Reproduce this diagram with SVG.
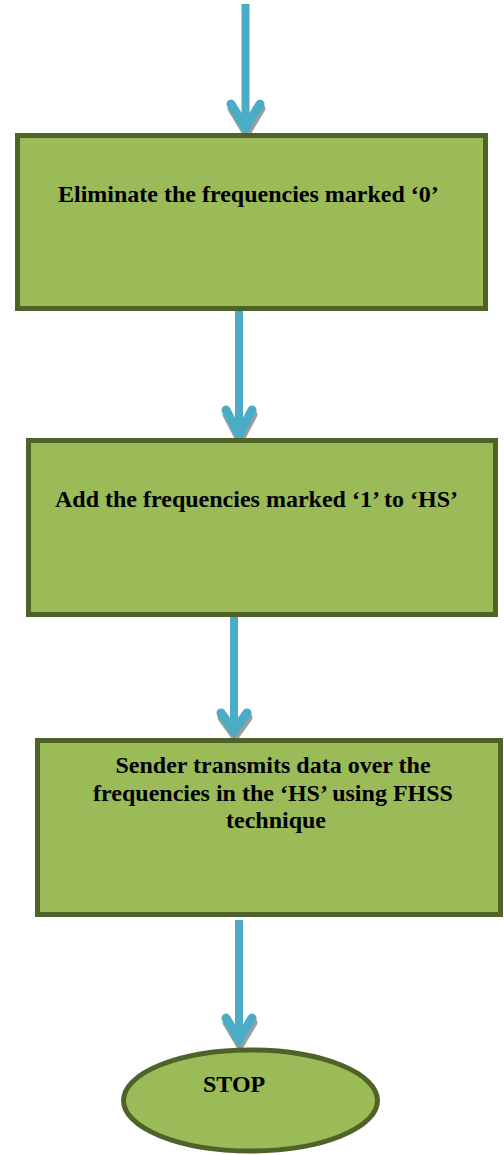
<svg xmlns="http://www.w3.org/2000/svg" width="504" height="1155" viewBox="0 0 504 1155">
  <style>
    .box { fill: #9BBB59; stroke: #4F6228; stroke-width: 5; }
    .halo { fill: none; stroke: #A6A6A6; stroke-width: 1; }
    .label { font-family: "Liberation Serif", "Times New Roman", serif; font-weight: bold; font-size: 24px; fill: #000; }
    .shaft { stroke: #4BACC6; stroke-width: 8; fill: none; }
    .head { stroke: #4BACC6; stroke-width: 9; fill: none; stroke-linecap: round; stroke-linejoin: miter; }
    .headshadow { stroke: #9E9E9E; stroke-width: 9; fill: none; stroke-linecap: round; stroke-linejoin: miter; }
  </style>
  <rect width="504" height="1155" fill="#FFFFFF"/>

  <g id="connectors">
    <g id="arrow1">
      <line class="shaft" x1="245.5" y1="4" x2="245.5" y2="124"/>
      <path class="headshadow" d="M231,106 L245.5,130 L260,106" transform="translate(1,2.5)"/>
      <path class="head" d="M231,104 L245.5,128 L260,104"/>
    </g>
    <g id="arrow2">
      <line class="shaft" x1="239" y1="311" x2="239" y2="432"/>
      <path class="headshadow" d="M226,412 L239,437 L252,412" transform="translate(1,2.5)"/>
      <path class="head" d="M226,410 L239,435 L252,410"/>
    </g>
    <g id="arrow3">
      <line class="shaft" x1="234" y1="616" x2="234" y2="730"/>
      <path class="headshadow" d="M221,715 L234,733 L247,715" transform="translate(1,2.5)"/>
      <path class="head" d="M221,713 L234,731 L247,713"/>
    </g>
    <g id="arrow4">
      <line class="shaft" x1="239" y1="920" x2="239" y2="1040"/>
      <path class="headshadow" d="M226,1020 L239,1042 L252,1020" transform="translate(1,2.5)"/>
      <path class="head" d="M226,1018 L239,1040 L252,1018"/>
    </g>
  </g>

  <g id="node1">
    <rect class="halo" x="15.5" y="133.5" width="472" height="177"/>
    <rect class="box" x="17.5" y="135.5" width="468" height="173"/>
    <text class="label" x="58" y="202">Eliminate the frequencies marked ‘0’</text>
  </g>

  <g id="node2">
    <rect class="halo" x="26.5" y="438.5" width="471" height="178"/>
    <rect class="box" x="28.5" y="440.5" width="467" height="174"/>
    <text class="label" x="55" y="507">Add the frequencies marked ‘1’ to ‘HS’</text>
  </g>

  <g id="node3">
    <rect class="halo" x="35.5" y="738.5" width="467" height="178"/>
    <rect class="box" x="37.5" y="740.5" width="463" height="174"/>
    <text class="label" text-anchor="middle">
      <tspan x="276" y="773">Sender transmits data over the</tspan>
      <tspan x="276" y="801">frequencies in the ‘HS’ using FHSS</tspan>
      <tspan x="276" y="828">technique</tspan>
    </text>
  </g>

  <g id="node4">
    <ellipse class="box" cx="250.5" cy="1100.5" rx="127" ry="50.5"/>
    <text class="label" x="203" y="1092">STOP</text>
  </g>
</svg>
